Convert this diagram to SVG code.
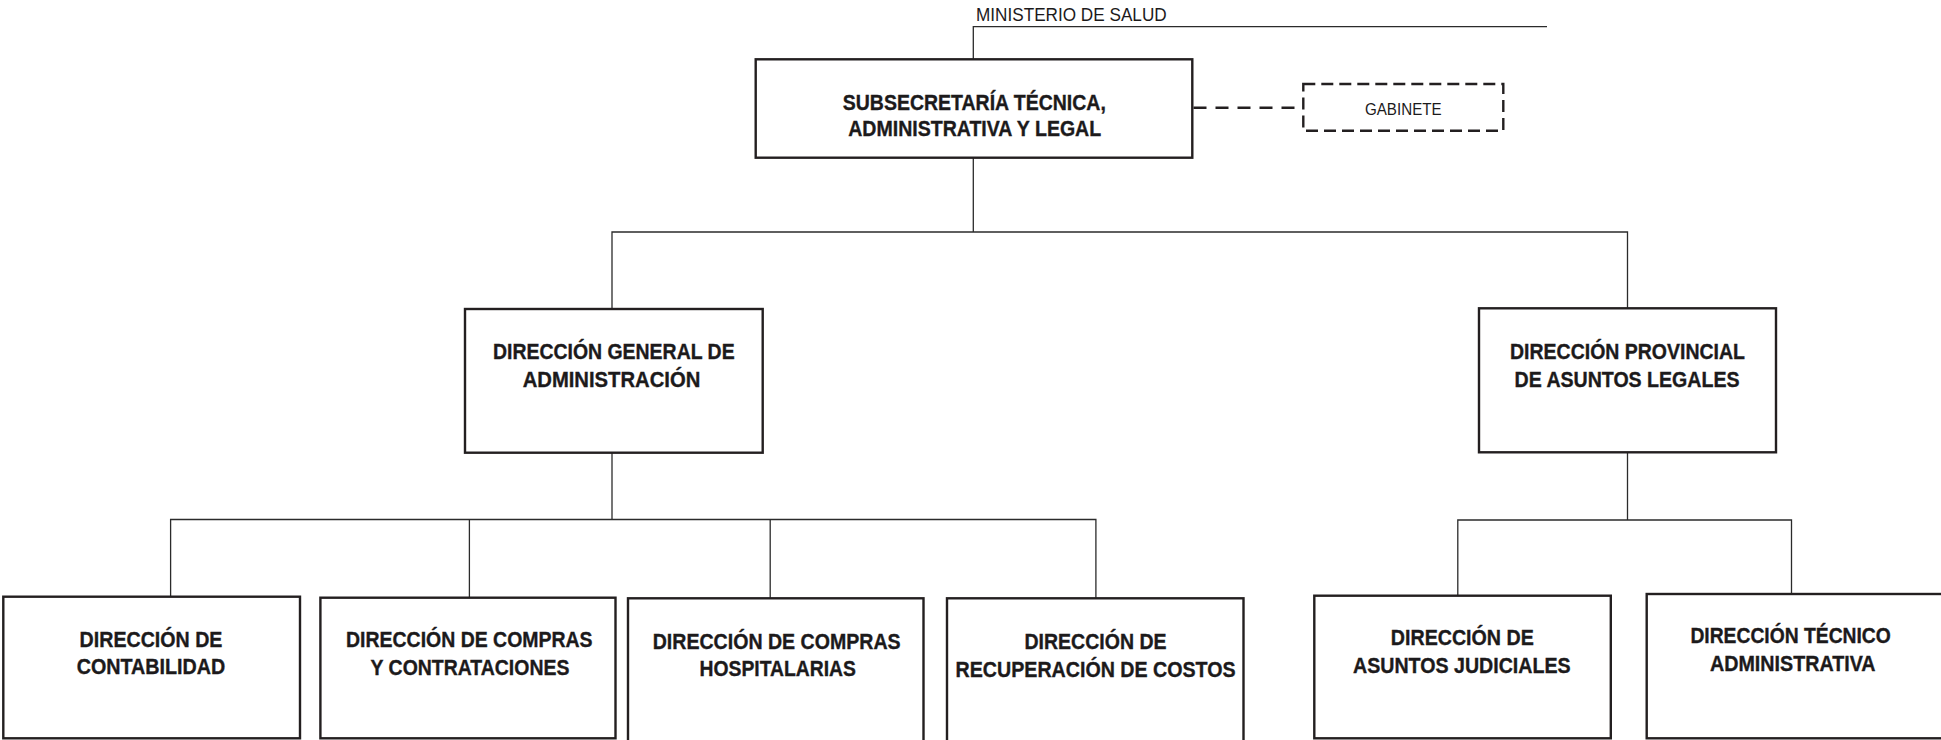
<svg xmlns="http://www.w3.org/2000/svg" width="1941" height="740" viewBox="0 0 1941 740">
<defs>
<style>
.box{fill:#fff;stroke:#231f20;stroke-width:2.4}
.dbox{fill:#fff;stroke:#231f20;stroke-width:2.4;stroke-dasharray:12 6}
.con{fill:none;stroke:#2b2b2b;stroke-width:1.3}
.dcon{fill:none;stroke:#231f20;stroke-width:2.4;stroke-dasharray:13 9}
.t{font-family:"Liberation Sans",Arial,sans-serif;font-weight:bold;font-size:21.5px;fill:#1c1a1b;stroke:#1c1a1b;stroke-width:0.35;text-anchor:middle}
.r{font-family:"Liberation Sans",Arial,sans-serif;font-weight:normal;fill:#1c1a1b}
</style>
</defs>
<rect width="1941" height="740" fill="#fff"/>
<g id="connectors">
<path class="con" d="M973.3 59.3 V26.7 H1547"/>
<path class="con" d="M973.3 157.7 V232"/>
<path class="con" d="M612 309 V232 H1627.5 V308.3"/>
<path class="con" d="M612 452.7 V519.5"/>
<path class="con" d="M170.6 596.7 V519.5 H1095.9 V598.3"/>
<path class="con" d="M469.4 519.5 V597.7"/>
<path class="con" d="M770.2 519.5 V598.3"/>
<path class="con" d="M1627.5 452.3 V520"/>
<path class="con" d="M1457.8 595.7 V520 H1791.5 V594"/>
<path class="dcon" d="M1193.5 107.7 H1303.3"/>
</g>
<g id="ministerio">
<text class="r" x="976" y="20.5" font-size="18" textLength="190.7" lengthAdjust="spacingAndGlyphs">MINISTERIO DE SALUD</text>
</g>
<g id="subsecretaria">
<rect class="box" x="755.7" y="59.3" width="436.6" height="98.4"/>
<text class="t" x="974.3" y="109.5" textLength="263" lengthAdjust="spacingAndGlyphs">SUBSECRETARÍA TÉCNICA,</text>
<text class="t" x="974.7" y="135.5" textLength="253" lengthAdjust="spacingAndGlyphs">ADMINISTRATIVA Y LEGAL</text>
</g>
<g id="gabinete">
<rect class="dbox" x="1303.3" y="84" width="200" height="46.7"/>
<text class="r" x="1403.3" y="115" font-size="16.5" text-anchor="middle" textLength="76.7" lengthAdjust="spacingAndGlyphs">GABINETE</text>
</g>
<g id="dir-general-administracion">
<rect class="box" x="465" y="309" width="297.7" height="143.7"/>
<text class="t" x="613.8" y="359" textLength="241.7" lengthAdjust="spacingAndGlyphs">DIRECCIÓN GENERAL DE</text>
<text class="t" x="611.5" y="386.7" textLength="177.7" lengthAdjust="spacingAndGlyphs">ADMINISTRACIÓN</text>
</g>
<g id="dir-provincial-asuntos-legales">
<rect class="box" x="1479" y="308.3" width="297" height="144"/>
<text class="t" x="1627.5" y="359.3" textLength="235" lengthAdjust="spacingAndGlyphs">DIRECCIÓN PROVINCIAL</text>
<text class="t" x="1627" y="386.7" textLength="225" lengthAdjust="spacingAndGlyphs">DE ASUNTOS LEGALES</text>
</g>
<g id="dir-contabilidad">
<rect class="box" x="3.3" y="596.7" width="296.7" height="141.6"/>
<text class="t" x="151" y="646.7" textLength="142.8" lengthAdjust="spacingAndGlyphs">DIRECCIÓN DE</text>
<text class="t" x="151" y="674" textLength="148.6" lengthAdjust="spacingAndGlyphs">CONTABILIDAD</text>
</g>
<g id="dir-compras-contrataciones">
<rect class="box" x="320.4" y="597.7" width="295.1" height="140.6"/>
<text class="t" x="469.3" y="647.3" textLength="246.5" lengthAdjust="spacingAndGlyphs">DIRECCIÓN DE COMPRAS</text>
<text class="t" x="470" y="675" textLength="198.8" lengthAdjust="spacingAndGlyphs">Y CONTRATACIONES</text>
</g>
<g id="dir-compras-hospitalarias">
<rect class="box" x="628" y="598.3" width="295.5" height="145"/>
<text class="t" x="776.7" y="648.7" textLength="248" lengthAdjust="spacingAndGlyphs">DIRECCIÓN DE COMPRAS</text>
<text class="t" x="777.7" y="676" textLength="156.3" lengthAdjust="spacingAndGlyphs">HOSPITALARIAS</text>
</g>
<g id="dir-recuperacion-costos">
<rect class="box" x="947" y="598.3" width="296.5" height="145"/>
<text class="t" x="1095.5" y="649.3" textLength="142" lengthAdjust="spacingAndGlyphs">DIRECCIÓN DE</text>
<text class="t" x="1095.6" y="676.7" textLength="280" lengthAdjust="spacingAndGlyphs">RECUPERACIÓN DE COSTOS</text>
</g>
<g id="dir-asuntos-judiciales">
<rect class="box" x="1314.3" y="595.7" width="296.5" height="142.6"/>
<text class="t" x="1462.3" y="645" textLength="143" lengthAdjust="spacingAndGlyphs">DIRECCIÓN DE</text>
<text class="t" x="1461.8" y="672.7" textLength="217.6" lengthAdjust="spacingAndGlyphs">ASUNTOS JUDICIALES</text>
</g>
<g id="dir-tecnico-administrativa">
<rect class="box" x="1646.7" y="594" width="310" height="144.3"/>
<text class="t" x="1790.6" y="643.3" textLength="200.4" lengthAdjust="spacingAndGlyphs">DIRECCIÓN TÉCNICO</text>
<text class="t" x="1792.8" y="670.7" textLength="165.6" lengthAdjust="spacingAndGlyphs">ADMINISTRATIVA</text>
</g>
</svg>
